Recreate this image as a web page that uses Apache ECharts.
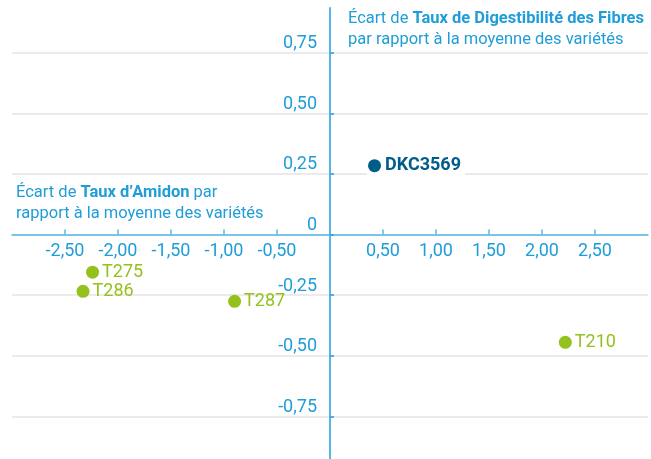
<!DOCTYPE html>
<html lang="fr">
<head>
  <meta charset="UTF-8">
  <title>Ecart amidon / digestibilite</title>
  <style>
    html, body { margin: 0; padding: 0; background: #fff; }
    #chart { width: 651px; height: 459px; }
  </style>
</head>
<body>
<div id="chart"></div>
<script src="https://cdn.jsdelivr.net/npm/echarts@6/dist/echarts.min.js"></script>
<script>
  // valeurs
  var refName = 'DKC3569'
  var refX = 0.42
  var refY = 0.284

  var names = ['T275', 'T286', 'T287', 'T210']
  var amidon = [-2.24, -2.33, -0.90, 2.22]
  var fibres = [-0.155, -0.234, -0.275, -0.444]

  var xTicks = [-2.5, -2, -1.5, -1, -0.5, 0.5, 1, 1.5, 2, 2.5]
  var yTicks = [-0.75, -0.5, -0.25, 0, 0.25, 0.5, 0.75]

  var xMin = -3, xMax = 3
  var yMin = -0.925, yMax = 0.934

  var font = 'Roboto, sans-serif'
  var blueAxis = '#55b8e6'
  var blueText = '#1f9dd8'
  var darkBlue = '#005c8a'
  var green = '#95c11f'

  // zone de tracé principale
  var W = 651, H = 459
  var gl = 12, gr = 3, gt = 8, gb = 0
  var plotW = W - gl - gr, plotH = H - gt - gb
  // position des axes qui se croisent en zéro
  var zeroY = gt + plotH * yMax / (yMax - yMin)
  var zeroX = gl + plotW * (0 - xMin) / (xMax - xMin)

  function fmt(v) {
    if (v === 0) return '0'
    if (Math.abs(v) >= 3) return ''
    return v.toFixed(2).replace('.', ',')
  }

  var greenData = names.map(function (n, i) {
    return { name: n, value: [amidon[i], fibres[i]] }
  })
  var refData = [{ name: refName, value: [refX, refY] }]

  var chart = echarts.init(document.getElementById('chart'), null, { renderer: 'canvas' })

  var rich = {
    n: { fontFamily: font, fontSize: 16.5, fontWeight: 'normal', color: blueText, lineHeight: 21 },
    b: { fontFamily: font, fontSize: 16.5, fontWeight: 'bold', color: blueText, lineHeight: 21 }
  }
  var hidden = { show: false }

  var option = {
    animation: false,
    textStyle: { fontFamily: font },
    title: [
      {
        left: 343, top: 3,
        text: '{n|Écart de }{b|Taux de Digestibilité des Fibres}\n{n|par rapport à la moyenne des variétés}',
        textStyle: { fontWeight: 'normal', rich: rich }
      },
      {
        left: 11, top: 177,
        text: '{n|Écart de }{b|Taux d’Amidon}{n| par}\n{n|rapport à la moyenne des variétés}',
        textStyle: { fontWeight: 'normal', rich: rich }
      }
    ],
    grid: [
      { left: gl, right: gr, top: gt, bottom: gb, containLabel: false, outerBoundsMode: 'none' },
      { left: gl, right: gr, top: gt, height: zeroY - gt, containLabel: false, outerBoundsMode: 'none' },
      { left: zeroX, right: gr, top: gt, bottom: gb, containLabel: false, outerBoundsMode: 'none' }
    ],
    xAxis: [
      {
        gridIndex: 0, type: 'value', min: xMin, max: xMax,
        axisLine: hidden, axisTick: hidden, axisLabel: hidden, splitLine: hidden
      },
      {
        gridIndex: 1, type: 'value', position: 'bottom', min: xMin, max: xMax, interval: 0.5,
        axisLine: { onZero: false, lineStyle: { color: blueAxis, width: 1.5 } },
        axisTick: { show: true, inside: true, length: 5, customValues: xTicks, lineStyle: { color: blueAxis, width: 1.5 } },
        axisLabel: {
          customValues: xTicks,
          margin: 8,
          color: blueText,
          fontFamily: font,
          fontSize: 18,
          formatter: fmt
        },
        splitLine: hidden
      },
      {
        gridIndex: 2, type: 'value', min: 0, max: 1,
        axisLine: hidden, axisTick: hidden, axisLabel: hidden, splitLine: hidden
      }
    ],
    yAxis: [
      {
        gridIndex: 0, type: 'value', min: yMin, max: yMax,
        axisLine: hidden, axisLabel: hidden,
        axisTick: { show: false, customValues: yTicks },
        splitLine: { show: true, lineStyle: { color: '#e5e5e5', width: 1.5 } }
      },
      {
        gridIndex: 1, type: 'value', min: 0, max: 1,
        axisLine: hidden, axisTick: hidden, axisLabel: hidden, splitLine: hidden
      },
      {
        gridIndex: 2, type: 'value', position: 'left', min: yMin, max: yMax,
        axisLine: { onZero: false, lineStyle: { color: blueAxis, width: 2 } },
        axisTick: { show: true, inside: true, length: 4, customValues: yTicks, lineStyle: { color: '#2a9fd6', width: 1.5 } },
        axisLabel: {
          customValues: yTicks,
          margin: 13,
          color: blueText,
          fontFamily: font,
          fontSize: 18,
          verticalAlign: 'bottom',
          formatter: fmt
        },
        splitLine: hidden
      }
    ],
    series: [
      {
        name: 'varietes',
        type: 'scatter',
        xAxisIndex: 0, yAxisIndex: 0,
        symbolSize: 13,
        itemStyle: { color: green, opacity: 1 },
        label: {
          show: true,
          position: 'right',
          distance: 3,
          formatter: '{b}',
          color: green,
          fontFamily: font,
          fontSize: 18
        },
        data: greenData,
        z: 3
      },
      {
        name: 'reference-label',
        type: 'scatter',
        xAxisIndex: 0, yAxisIndex: 0,
        symbolSize: 13,
        itemStyle: { color: darkBlue, opacity: 1 },
        label: {
          show: true,
          position: 'right',
          distance: -14,
          formatter: '{b}',
          color: darkBlue,
          fontFamily: font,
          fontSize: 18,
          fontWeight: 'bold',
          backgroundColor: '#fff',
          padding: [2, 4, 2, 18]
        },
        data: refData,
        z: 2
      },
      {
        name: 'reference',
        type: 'scatter',
        xAxisIndex: 0, yAxisIndex: 0,
        symbolSize: 13,
        itemStyle: { color: darkBlue, opacity: 1 },
        data: refData,
        z: 4
      }
    ]
  }

  chart.setOption(option)
  window.addEventListener('resize', chart.resize)
</script>
</body>
</html>
